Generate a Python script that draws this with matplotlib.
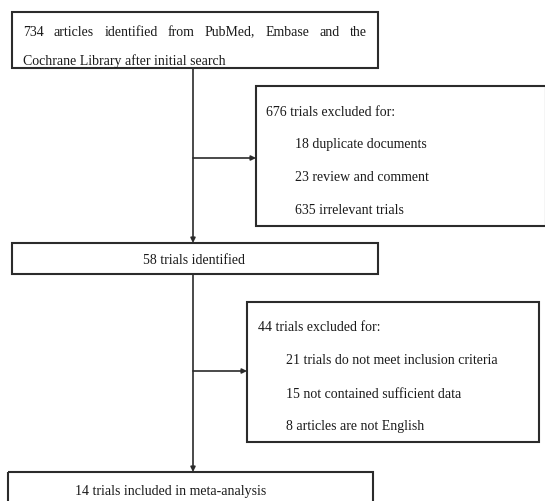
import matplotlib
matplotlib.use("Agg")
from matplotlib import pyplot as plt
from matplotlib.patches import Rectangle

plt.rcParams['font.family'] = ['Liberation Serif', 'DejaVu Serif']

# flow chart texts
top_words = ["734", "articles", "identified", "from", "PubMed,", "Embase", "and", "the"]
top_line2 = "Cochrane Library after initial search"
mid_text = "58 trials identified"
bottom_text = "14 trials included in meta-analysis"
excl1_title = "676 trials excluded for:"
excl1_items = ["18 duplicate documents", "23 review and comment", "635 irrelevant trials"]
excl2_title = "44 trials excluded for:"
excl2_items = ["21 trials do not meet inclusion criteria",
               "15 not contained sufficient data",
               "8 articles are not English"]

fig = plt.figure(figsize=(5.45, 5.02), dpi=100)
ax = fig.add_axes([0, 0, 1, 1])
ax.set_xlim(0, 545)
ax.set_ylim(502, 0)
ax.axis('off')

lc = '#2b2b2b'
tc = '#1a1a1a'
fs = 10


def box(x0, y0, x1, y1):
    ax.add_patch(Rectangle((x0, y0), x1 - x0, y1 - y0, fill=False,
                           edgecolor=lc, linewidth=1.5))


def arrow(x0, y0, x1, y1):
    ax.annotate('', xy=(x1, y1), xytext=(x0, y0),
                arrowprops=dict(arrowstyle='-|>', color=lc, lw=1.2,
                                mutation_scale=7, shrinkA=0, shrinkB=0))


# boxes
box(12, 13, 378, 69)
box(256, 87, 546, 227)
box(12, 244, 378, 275)
box(247, 303, 539, 443)
box(8, 473, 373, 510)

# main vertical flow
arrow(193, 69, 193, 244)
arrow(193, 275, 193, 473)
# side arrows
arrow(193, 159, 256, 159)
arrow(193, 372, 247, 372)

# justified first line
fig.canvas.draw()
r = fig.canvas.get_renderer()
inv = ax.transData.inverted()
texts = []
for w in top_words:
    t = ax.text(0, 32, w, fontsize=fs, va='center', ha='left', color=tc)
    texts.append(t)
widths = []
for t in texts:
    bb = t.get_window_extent(renderer=r)
    p0 = inv.transform((bb.x0, bb.y0))
    p1 = inv.transform((bb.x1, bb.y0))
    widths.append(p1[0] - p0[0])
left, right = 23, 367
gap = (right - left - sum(widths)) / (len(top_words) - 1)
x = left
for t, wd in zip(texts, widths):
    t.set_x(x)
    x += wd + gap

ax.text(23, 61, top_line2, fontsize=fs, va='center', ha='left', color=tc)
ax.text(194, 261, mid_text, fontsize=fs, va='center', ha='center', color=tc)
ax.text(75, 492, bottom_text, fontsize=fs, va='center', ha='left', color=tc)

ax.text(266, 112, excl1_title, fontsize=fs, va='center', ha='left', color=tc)
for yy, s in zip([145, 178, 211], excl1_items):
    ax.text(295, yy, s, fontsize=fs, va='center', ha='left', color=tc)

ax.text(258, 328, excl2_title, fontsize=fs, va='center', ha='left', color=tc)
for yy, s in zip([361, 395, 427], excl2_items):
    ax.text(286, yy, s, fontsize=fs, va='center', ha='left', color=tc)

fig.savefig('out.png', dpi=100)
